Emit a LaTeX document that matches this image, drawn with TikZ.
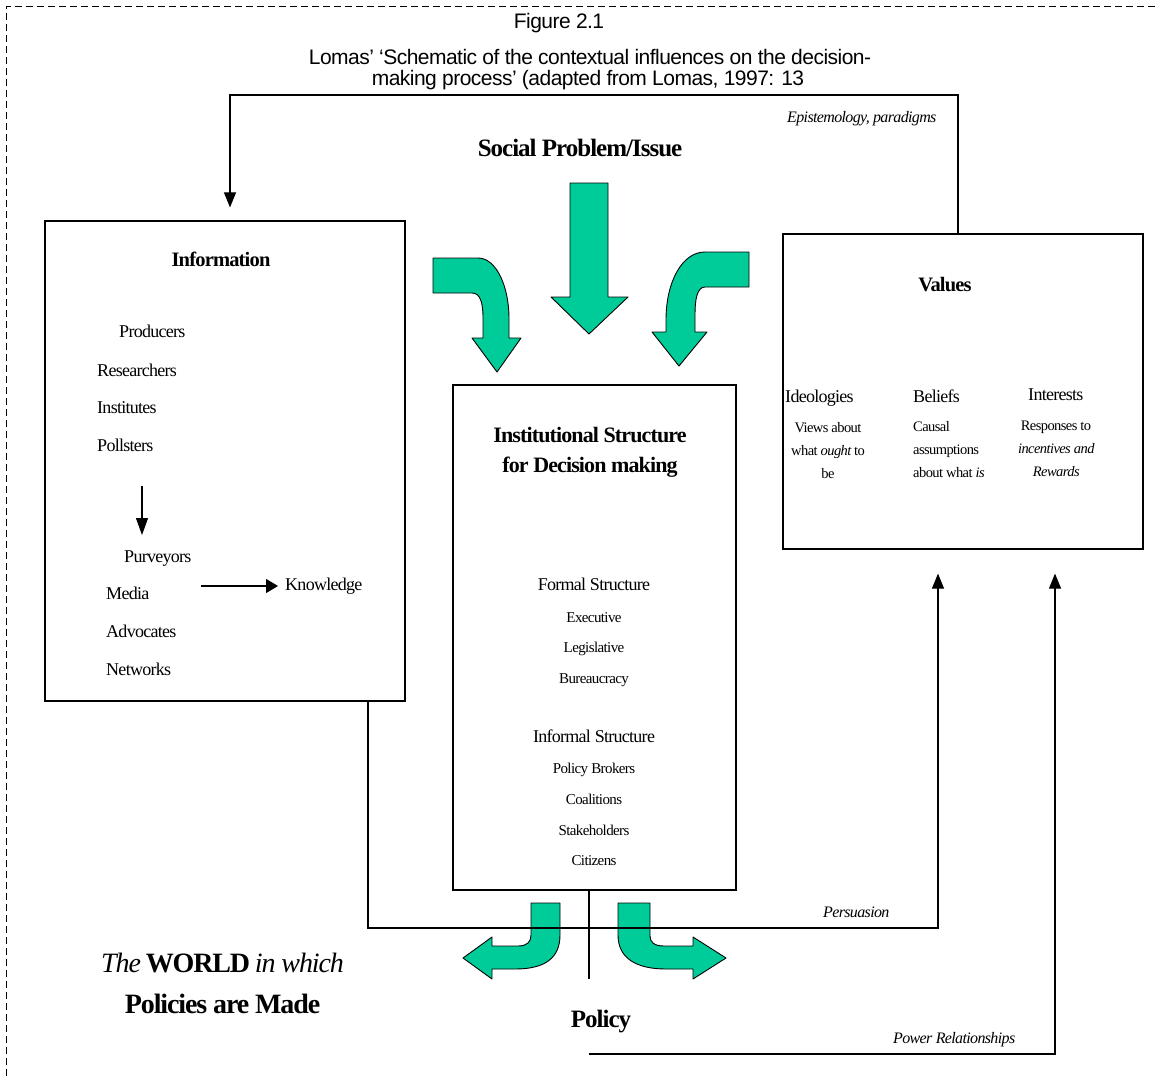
\documentclass[tikz,border=0pt]{standalone}
\usepackage{fontspec}
\setmainfont{Liberation Serif}[LetterSpace=-4]
\newfontfamily\ari{Liberation Sans}[LetterSpace=-2.5]
\usetikzlibrary{arrows.meta}
\definecolor{flowgreen}{RGB}{0,204,153}

\tikzset{
  box/.style={draw, line width=1.2pt, inner sep=0pt},
  conn/.style={draw, line width=1.1pt},
  tip/.style={-{Triangle[length=15pt,width=12pt]}},
  garrow/.style={fill=flowgreen, draw=black, line width=0.9pt, line join=round},
  lbl/.style={inner sep=0pt, anchor=base west},
  clbl/.style={inner sep=0pt, anchor=base},
  f18/.style={font=\fontsize{18}{20}\selectfont},
  f15/.style={font=\fontsize{15}{21}\selectfont},
  f14/.style={font=\fontsize{14.5}{23}\selectfont},
  headfont/.style={font=\ari\fontsize{21}{21}\selectfont},
}

\begin{document}
\begin{tikzpicture}[x=1pt, y=-1pt]
\useasboundingbox (0,0) rectangle (1159,1076);

% dashed frame
\draw[line width=1.2pt, dash pattern=on 7pt off 4pt] (6.5,1076) -- (6.5,6.5) -- (1159,6.5);

% heading
\node[clbl, headfont] (fig) at (559,28) {Figure 2.1};
\node[clbl, headfont] (cap1) at (590,64) {Lomas’ ‘Schematic of the contextual influences on the decision-};
\node[clbl, headfont] (cap2) at (588,85) {making process’ (adapted from Lomas, 1997: 13};

% the three boxes
\node[box, minimum width=360pt, minimum height=480pt] (info) at (225,461) {};
\node[box, minimum width=283pt, minimum height=505pt] (inst) at (594.5,637.5) {};
\node[box, minimum width=360pt, minimum height=315pt] (values) at (963,391.5) {};

% Information box
\node[clbl, font=\bfseries\fontsize{20.5}{24}\selectfont] (infot) at (221,266) {Information};
\node[lbl, f18] (prod) at (119,337) {Producers};
\node[lbl, f18] (res) at (97,376) {Researchers};
\node[lbl, f18] (inst1) at (97,413) {Institutes};
\node[lbl, f18] (poll) at (97,451) {Pollsters};
\node[lbl, f18] (purv) at (124,562) {Purveyors};
\node[lbl, f18] (media) at (106,599) {Media};
\node[lbl, f18] (adv) at (106,637) {Advocates};
\node[lbl, f18] (net) at (106,675) {Networks};
\node[lbl, f18] (know) at (285,590) {Knowledge};
\coordinate (downA) at (142,486);
\coordinate (downB) at (142,535);
\coordinate (rightA) at (201,586);
\draw[conn, -{Triangle[length=17pt,width=12pt]}] (downA) -- (downB);
\draw[conn, -{Triangle[length=12pt,width=14pt]}, shorten >=7pt] (rightA) -- (rightA -| know.west);

% Institutional structure box
\node[clbl, font=\bfseries\fontsize{22}{30}\selectfont, align=center] (instt) at (590,472)
  {Institutional Structure\\for Decision making};
\node[clbl, f18] (formal) at (594,590) {Formal Structure};
\node[clbl, f15] (exec) at (594,622) {Executive};
\node[clbl, f15] (leg) at (594,652) {Legislative};
\node[clbl, f15] (bur) at (594,683) {Bureaucracy};
\node[clbl, f18] (informal) at (594,742) {Informal Structure};
\node[clbl, f15] (brok) at (594,773) {Policy Brokers};
\node[clbl, f15] (coal) at (594,804) {Coalitions};
\node[clbl, f15] (stak) at (594,835) {Stakeholders};
\node[clbl, f15] (citz) at (594,865) {Citizens};

% Values box
\node[clbl, font=\bfseries\fontsize{20.5}{24}\selectfont] (valt) at (945,291) {Values};
\node[lbl, f18] (ideo) at (785,402) {Ideologies};
\node[lbl, f18] (bel) at (913,402) {Beliefs};
\node[lbl, f18] (intr) at (1028,400) {Interests};
\node[anchor=base, inner sep=0pt, f14, align=center] (ideod) at (828,478)
  {Views about\\what \textit{ought} to\\be};
\node[anchor=base west, inner sep=0pt, f14, align=left] (beld) at (913,477)
  {Causal\\assumptions\\about what \textit{is}};
\node[anchor=base, inner sep=0pt, f14, align=center] (intrd) at (1056,476)
  {Responses to\\\textit{incentives and}\\\textit{Rewards}};

% free labels
\node[clbl, font=\bfseries\fontsize{25}{28}\selectfont] (social) at (580,156) {Social Problem/Issue};
\node[clbl, font=\bfseries\fontsize{25}{28}\selectfont] (policy) at (601,1027) {Policy};
\node[lbl, font=\itshape\fontsize{16}{18}\selectfont] (epi) at (787,122) {Epistemology, paradigms};
\node[lbl, font=\itshape\fontsize{16}{18}\selectfont] (pers) at (823,917) {Persuasion};
\node[lbl, font=\itshape\fontsize{16}{18}\selectfont] (powr) at (893,1043) {Power Relationships};
\node[clbl, font=\fontsize{28}{41}\selectfont, align=center] (world) at (222,1013)
  {\textit{The} \textbf{WORLD} \textit{in which}\\\textbf{Policies are Made}};

% green flow arrows into the institutional box
\draw[garrow] (570,183) -- (608,183) -- (608,297) -- (628,297) -- (589,334)
  -- (551,297) -- (570,297) -- cycle;
\draw[garrow] (433,258) -- (478,258) .. controls (497,258) and (509,288) .. (509,318)
  -- (509,338) -- (521,338) -- (497,372) -- (472,338) -- (483,338) -- (483,318)
  .. controls (483,302) and (480,293) .. (472,293) -- (433,293) -- cycle;
\draw[garrow] (749,252) -- (705,252) .. controls (682,252) and (666,282) .. (666,320)
  -- (666,332) -- (652,332) -- (679,366) -- (707,332) -- (695,332) -- (695,314)
  .. controls (695,300) and (697,287) .. (705,287) -- (749,287) -- cycle;

% green flow arrows out of the institutional box
\draw[garrow] (531,903) -- (560,903) -- (560,935) .. controls (560,958) and (545,969) .. (515,969)
  -- (492,969) -- (492,979) -- (463,958) -- (492,937) -- (492,946) -- (518,946)
  .. controls (527,946) and (531,942) .. (531,935) -- cycle;
\draw[garrow] (618,903) -- (650,903) -- (650,936) .. controls (650,942) and (654,946) .. (664,946)
  -- (693,946) -- (693,937) -- (726,958) -- (693,979) -- (693,969) -- (666,969)
  .. controls (636,969) and (618,958) .. (618,935) -- cycle;

% connectors
\coordinate (epiR) at (958,95);
\coordinate (epiL) at (230,95);
\draw[conn, tip, shorten >=13pt] (values.north -| epiR) -- (epiR) -- (epiL) -- (info.north -| epiL);

\coordinate (persA) at (368,928);
\coordinate (persB) at (938,928);
\draw[conn, tip, shorten >=24pt] (info.south -| persA) -- (persA) -- (persB) -- (values.south -| persB);

\coordinate (stem) at (589,979);
\draw[conn] (inst.south -| stem) -- (stem);

\coordinate (powA) at (589,1054);
\coordinate (powB) at (1055,1054);
\draw[conn, tip, shorten >=24pt] (powA) -- (powB) -- (values.south -| powB);
\end{tikzpicture}
\end{document}
